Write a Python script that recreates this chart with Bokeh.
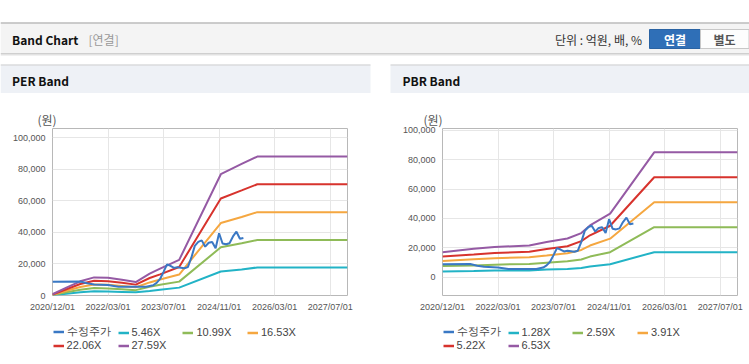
from bokeh.plotting import figure
from bokeh.layouts import column, row
from bokeh.models import Range1d, FixedTicker, NumeralTickFormatter, Legend, LegendItem
from bokeh.core.properties import value
from bokeh.embed import file_html
from bokeh.resources import INLINE

# ---------------- data ----------------
x_tick_index = [0, 16, 32, 48, 64, 80]
x_tick_labels = ["2020/12/01", "2022/03/01", "2023/07/01", "2024/11/01", "2026/03/01", "2027/07/01"]
y_ticks = [0, 20000, 40000, 60000, 80000, 100000]

# adjusted share price (수정주가)
price_x = [0, 8, 10, 12, 16, 19, 24, 27, 29, 30, 31, 32, 33, 34, 35, 36, 38, 39, 40, 41,
           42, 43, 44, 45, 46, 47, 48, 49, 50, 51, 52, 53, 54, 55]
price_vals = [8800, 8900, 7800, 7000, 6600, 5600, 5500, 5600, 6500, 8000,
              10500, 15000, 19800, 18800, 17500, 18000, 17300, 18000, 24000, 31500,
              34000, 35000, 31000, 33500, 34000, 30000, 39500, 33000, 32500, 33200,
              37500, 40500, 36000, 36500]

# PER band
per_x = [0, 4, 8, 12, 16, 20, 24, 28, 31, 36.5, 48.5, 54.5, 59, 85]
per_546 = [200, 1100, 2000, 2700, 2500, 2300, 2100, 2900, 3700, 5000, 15200, 16500, 17800, 17800]
per_1099 = [320, 2000, 3600, 4700, 4500, 4000, 3400, 5500, 6800, 8800, 30600, 33200, 35200, 35200]
per_1653 = [480, 3000, 5400, 7000, 6800, 6100, 5200, 8300, 10100, 13300, 46000, 49800, 52900, 52900]
per_2206 = [650, 4000, 7300, 9400, 9000, 8100, 6900, 11100, 13400, 18100, 61600, 66700, 70600, 70600]
per_2759 = [800, 5000, 9000, 11500, 11300, 10000, 8500, 13900, 17000, 22600, 77000, 83500, 88200, 88200]
per_labels = ["수정주가", "5.46X", "10.99X", "16.53X", "22.06X", "27.59X"]

# PBR band
pbr_x = [0, 9, 15, 25, 30, 36, 40, 42.5, 48.3, 61, 85]
pbr_128 = [3800, 4200, 4500, 4600, 5200, 5600, 6200, 7200, 8800, 17000, 17000]
pbr_259 = [7500, 8000, 8500, 9000, 9800, 10800, 12000, 14000, 17000, 34000, 34000]
pbr_391 = [11000, 12200, 12900, 13600, 14800, 16300, 18500, 21500, 26200, 51000, 51000]
pbr_522 = [14000, 15400, 16400, 17300, 19100, 21000, 24500, 28500, 35000, 68000, 68000]
pbr_653 = [17000, 19300, 20500, 21600, 23900, 26300, 30000, 35200, 43200, 85000, 85000]
pbr_labels = ["수정주가", "1.28X", "2.59X", "3.91X", "5.22X", "6.53X"]

colors = ["#3a78c4", "#22b3c6", "#8fbb58", "#f5a740", "#d7332d", "#955aa4"]

KR = "Noto Sans CJK KR"

# ---------------- header ----------------
W = 749
hdr = figure(width=W, height=93, x_range=Range1d(0, W), y_range=Range1d(93, 0),
             x_axis_type=None, y_axis_type=None, toolbar_location=None,
             output_backend="svg", min_border=0, outline_line_color=None)
hdr.grid.visible = False
hdr.background_fill_color = "white"
hdr.border_fill_color = "white"

hdr.quad(left=[0], right=[W], top=[22], bottom=[53], fill_color="#f4f4f4", line_color=None)
hdr.segment(x0=[0], x1=[W], y0=[22.5], y1=[22.5], line_color="#bcbcbc", line_width=1.5)
hdr.segment(x0=[0, 0, 0], x1=[W, W, W], y0=[53, 54, 55], y1=[53, 54, 55],
            line_color=["#cfcfcf", "#e2e2e2", "#f0f0f0"], line_width=1)
hdr.text(x=[11.5], y=[38.5], text=["Band Chart"], text_font=value(KR), text_font_style="bold",
         text_font_size="12px", text_color="#111111", text_baseline="middle")
hdr.text(x=[88], y=[38.5], text=["[연결]"], text_font=value(KR),
         text_font_size="12px", text_color="#999999", text_baseline="middle")
hdr.text(x=[641.5], y=[38.5], text=["단위 : 억원, 배, %"], text_font=value(KR),
         text_font_size="12px", text_color="#333333", text_baseline="middle", text_align="right")
hdr.quad(left=[649], right=[700], top=[29], bottom=[48], fill_color="#2f6fb7", line_color="#2a63a3")
hdr.quad(left=[700], right=[748.5], top=[29], bottom=[48], fill_color="#fdfdfd", line_color="#c8c8c8")
hdr.text(x=[674.5], y=[38.5], text=["연결"], text_font=value(KR), text_font_style="bold",
         text_font_size="12px", text_color="white", text_baseline="middle", text_align="center")
hdr.text(x=[724], y=[38.5], text=["별도"], text_font=value(KR), text_font_style="bold",
         text_font_size="12px", text_color="#555555", text_baseline="middle", text_align="center")
hdr.quad(left=[0, 390], right=[370, W], top=[64, 64], bottom=[93, 93],
         fill_color="#eef1f6", line_color=None)
hdr.segment(x0=[0, 390], x1=[370, W], y0=[64.5, 64.5], y1=[64.5, 64.5],
            line_color="#d0d0d0", line_width=1)
hdr.text(x=[11.5, 402], y=[79.5, 79.5], text=["PER Band", "PBR Band"], text_font=value(KR),
         text_font_style="bold", text_font_size="12px", text_color="#111111",
         text_baseline="middle")


# ---------------- charts ----------------
def make_chart(band_x, bands, y_lo, y_hi, width, mb_left, mb_right, title_offset):
    p = figure(width=width, height=225, x_range=Range1d(0, 85), y_range=Range1d(y_lo, y_hi),
               toolbar_location=None, output_backend="svg", title="(원)",
               min_border_left=mb_left, min_border_right=mb_right,
               min_border_top=35, min_border_bottom=23)
    p.background_fill_color = "white"
    p.border_fill_color = "white"
    p.outline_line_color = "#b8b8b8"
    p.outline_line_width = 1
    p.title.align = "left"
    p.title.offset = title_offset
    p.title.text_font = KR
    p.title.text_font_style = "normal"
    p.title.text_font_size = "12px"
    p.title.text_color = "#555555"
    p.title.standoff = 2

    for ax in (p.xaxis, p.yaxis):
        ax.axis_line_color = None
        ax.major_tick_line_color = None
        ax.minor_tick_line_color = None
        ax.major_tick_out = 0
        ax.major_tick_in = 0
        ax.minor_tick_out = 0
        ax.minor_tick_in = 0
        ax.major_label_text_font = "Liberation Sans"
        ax.major_label_text_font_size = "9px"
        ax.major_label_text_color = "#555555"
    p.xaxis.ticker = FixedTicker(ticks=x_tick_index)
    p.xaxis.major_label_overrides = dict(zip(x_tick_index, x_tick_labels))
    p.xaxis.major_label_standoff = 6
    p.yaxis.ticker = FixedTicker(ticks=y_ticks)
    p.yaxis.formatter = NumeralTickFormatter(format="0,0")
    p.yaxis.major_label_standoff = 7
    p.xgrid.ticker = FixedTicker(ticks=x_tick_index)
    p.ygrid.ticker = FixedTicker(ticks=y_ticks)
    p.grid.grid_line_color = "#e6e6e6"
    p.grid.grid_line_width = 1

    for vals, c in zip(bands, colors[1:]):
        p.line(band_x, vals, line_color=c, line_width=2)
    p.line(price_x, price_vals, line_color=colors[0], line_width=2)
    return p


def make_legend(labels, width, mb_left, mb_right):
    fw = width - mb_left - mb_right
    lp = figure(width=width, height=46, x_range=Range1d(0, fw), y_range=Range1d(0, 46),
                x_axis_type=None, y_axis_type=None, toolbar_location=None,
                output_backend="svg", min_border_left=mb_left, min_border_right=mb_right,
                min_border_top=0, min_border_bottom=0, outline_line_color=None)
    lp.grid.visible = False
    lp.background_fill_color = "white"
    lp.border_fill_color = "white"
    slots = [(0.6, 25.5), (65.5, 25.5), (130.4, 25.5), (195, 25.5), (0.6, 12.2), (65.5, 12.2)]
    for (lx, ly), lab, c in zip(slots, labels, colors):
        # off-range stub line: only its legend swatch is visible
        r = lp.line(x=[-20, -10], y=[-20, -20], line_color=c, line_width=2.5)
        lg = Legend(items=[LegendItem(label=lab, renderers=[r])], location=(lx, ly),
                    padding=0, margin=0, spacing=0, glyph_width=11, glyph_height=13,
                    label_height=13, label_standoff=3, label_text_font="Liberation Sans",
                    label_text_font_size="11px", label_text_color="#444444",
                    border_line_color=None, background_fill_alpha=0)
        lp.add_layout(lg, "center")
    return lp


p_per = make_chart(per_x, [per_546, per_1099, per_1653, per_2206, per_2759],
                   0, 106000, 390, 52, 43, -15)
p_pbr = make_chart(pbr_x, [pbr_128, pbr_259, pbr_391, pbr_522, pbr_653],
                   -12500, 101200, 359, 52, 12, -19)
l_per = make_legend(per_labels, 390, 52, 43)
l_pbr = make_legend(pbr_labels, 359, 52, 12)

layout = column(hdr, row(column(p_per, l_per), column(p_pbr, l_pbr)))
open("out.html", "w").write(file_html(layout, INLINE))
